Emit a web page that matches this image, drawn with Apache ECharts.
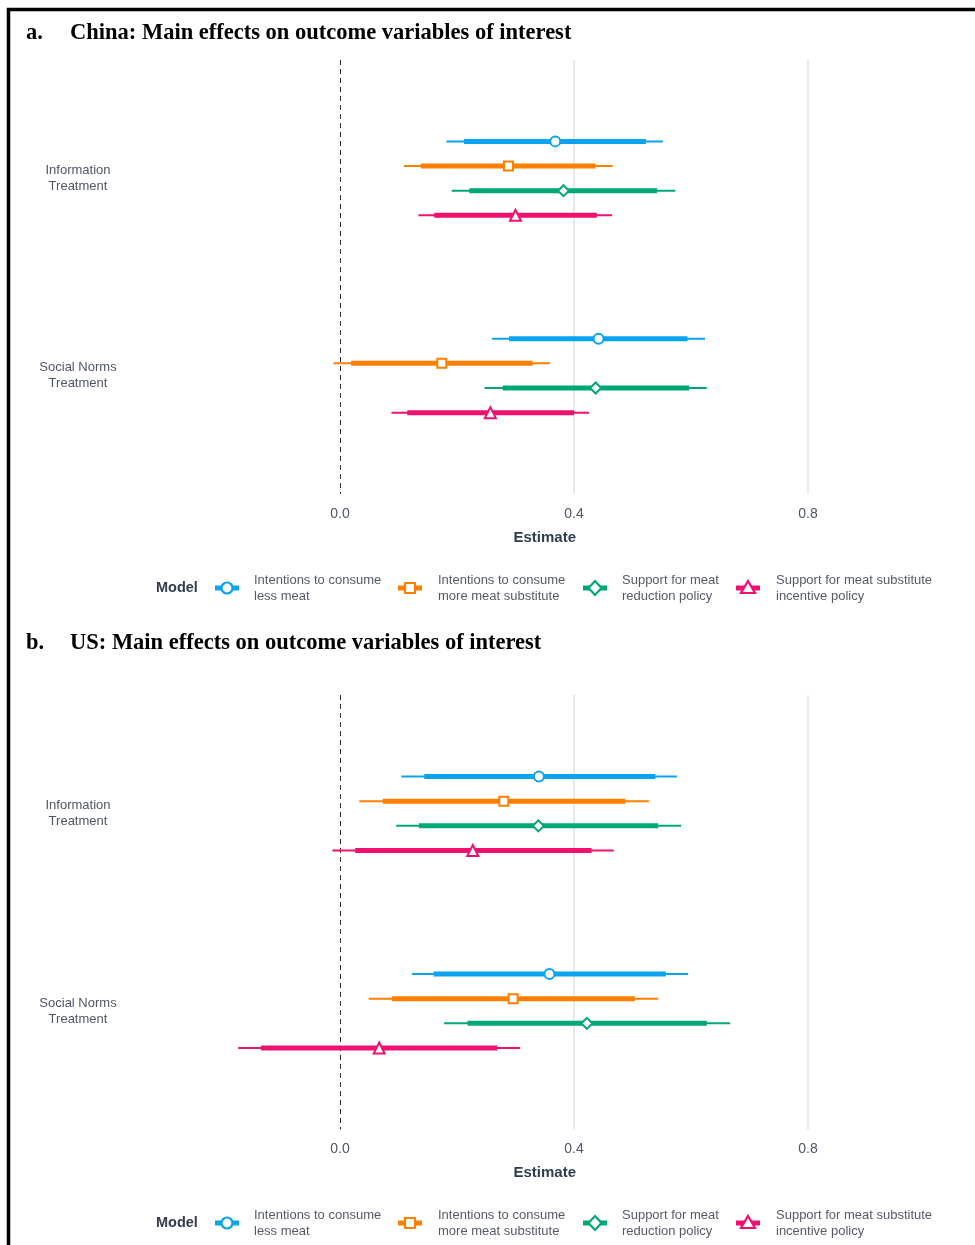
<!DOCTYPE html>
<html>
<head>
<meta charset="utf-8">
<title>Main effects on outcome variables of interest</title>
<script src="https://cdn.jsdelivr.net/npm/echarts@6/dist/echarts.min.js"></script>
<style>
  html, body { margin: 0; padding: 0; background: #fff; }
  #chart { width: 975px; height: 1245px; }
</style>
</head>
<body>
<div id="chart"></div>
<script>
// Treatments (y categories) and outcome models (dodged rows / legend entries)
const treatments = ['Information\nTreatment', 'Social Norms\nTreatment'];
const models = [
  'Intentions to consume\nless meat',
  'Intentions to consume\nmore meat substitute',
  'Support for meat\nreduction policy',
  'Support for meat substitute\nincentive policy'
];
const modelColors = ['#0AA3EF', '#FF7F00', '#00A878', '#F01070'];
const modelSymbols = ['circle', 'rect', 'diamond', 'triangle'];

// x-axis ticks (0 is the dashed reference line)
const xTicks = [0, 0.4, 0.8];
const xTickLabels = ['0.0', '0.4', '0.8'];

// China: rows = treatment, columns = model
const chinaEst  = [[0.368, 0.288, 0.382, 0.300], [0.442, 0.174, 0.437, 0.257]];
const chinaLo90 = [[0.212, 0.138, 0.221, 0.161], [0.289, 0.019, 0.278, 0.115]];
const chinaHi90 = [[0.523, 0.437, 0.542, 0.439], [0.594, 0.329, 0.597, 0.400]];
const chinaLo95 = [[0.182, 0.109, 0.191, 0.134], [0.260, -0.011, 0.247, 0.088]];
const chinaHi95 = [[0.552, 0.466, 0.573, 0.465], [0.624, 0.359, 0.627, 0.426]];

// US: rows = treatment, columns = model
const usEst  = [[0.340, 0.280, 0.339, 0.227], [0.358, 0.296, 0.422, 0.067]];
const usLo90 = [[0.144, 0.073, 0.135, 0.026], [0.160, 0.089, 0.218, -0.135]];
const usHi90 = [[0.539, 0.488, 0.544, 0.430], [0.557, 0.504, 0.627, 0.269]];
const usLo95 = [[0.105, 0.033, 0.096, -0.013], [0.123, 0.049, 0.178, -0.174]];
const usHi95 = [[0.576, 0.528, 0.583, 0.468], [0.595, 0.544, 0.667, 0.308]];

const panelTitles = [
  ['a.', 'China: Main effects on outcome variables of interest'],
  ['b.', 'US: Main effects on outcome variables of interest']
];

// ---------- layout ----------
const SANS = '"Liberation Sans", Arial, sans-serif';
const SERIF = '"Liberation Serif", "Times New Roman", serif';
const dodge = [-0.1875, -0.0625, 0.0625, 0.1875];
const panels = [
  { top: 60, height: 434, titleY: 33, legendY: 588,
    est: chinaEst, lo90: chinaLo90, hi90: chinaHi90, lo95: chinaLo95, hi95: chinaHi95 },
  { top: 695, height: 434.5, titleY: 643, legendY: 1223,
    est: usEst, lo90: usLo90, hi90: usHi90, lo95: usLo95, hi95: usHi95 }
];

// vertical reference lines spanning the full panel height
function renderRefLine(params, api) {
  const cs = params.coordSys;
  const isZero = Math.abs(api.value(0)) < 1e-9;
  let x = api.coord([api.value(0), 1])[0];
  if (isZero) x = Math.round(x) + 0.5;
  return {
    type: 'line',
    shape: { x1: x, y1: cs.y, x2: x, y2: cs.y + cs.height },
    style: isZero
      ? { stroke: '#2A2A2A', lineWidth: 1, lineDash: [5, 4] }
      : { stroke: '#E2E2E2', lineWidth: 1.5 }
  };
}

// thin 95% and thick 90% interval bars
function renderInterval(color) {
  return function (params, api) {
    const y = api.value(0);
    const a95 = api.coord([api.value(1), y]);
    const b95 = api.coord([api.value(5), y]);
    const a90 = api.coord([api.value(2), y]);
    const b90 = api.coord([api.value(4), y]);
    return {
      type: 'group',
      children: [
        { type: 'line', shape: { x1: a95[0], y1: a95[1], x2: b95[0], y2: b95[1] },
          style: { stroke: color, lineWidth: 2 } },
        { type: 'line', shape: { x1: a90[0], y1: a90[1], x2: b90[0], y2: b90[1] },
          style: { stroke: color, lineWidth: 5 } }
      ]
    };
  };
}

const grids = [], xAxes = [], yAxes = [], series = [], graphics = [];

panels.forEach(function (p, pi) {
  grids.push({ left: 164.5, right: 50, top: p.top, height: p.height });

  xAxes.push({
    gridIndex: pi, type: 'value', min: -0.3, max: 1.0, interval: 0.1,
    axisLine: { show: false }, axisTick: { show: false }, splitLine: { show: false },
    axisLabel: {
      color: '#4F5665', fontSize: 14, fontFamily: SANS, margin: 13,
      formatter: function (v) {
        for (let i = 0; i < xTicks.length; i++) {
          if (Math.abs(v - xTicks[i]) < 1e-6) return xTickLabels[i];
        }
        return '';
      }
    },
    name: 'Estimate', nameLocation: 'middle', nameGap: 36,
    nameTextStyle: { fontWeight: 'bold', fontSize: 15, color: '#2F3E50', fontFamily: SANS }
  });

  yAxes.push({
    gridIndex: pi, type: 'value', inverse: true, min: 0.4, max: 2.6, interval: 0.2,
    axisLine: { show: false }, axisTick: { show: false }, splitLine: { show: false },
    axisLabel: {
      color: '#4F5665', fontSize: 13, lineHeight: 16, fontFamily: SANS,
      align: 'center', margin: 86.5,
      formatter: function (v) {
        for (let i = 0; i < treatments.length; i++) {
          if (Math.abs(v - (i + 1)) < 1e-6) return treatments[i];
        }
        return '';
      }
    }
  });

  series.push({
    type: 'custom', xAxisIndex: pi, yAxisIndex: pi, z: 1, silent: true,
    renderItem: renderRefLine,
    encode: { x: 0 },
    data: xTicks.map(function (v) { return [v]; })
  });

  models.forEach(function (m, mi) {
    const intervals = [], points = [];
    treatments.forEach(function (t, ti) {
      const y = ti + 1 + dodge[mi];
      intervals.push([y, p.lo95[ti][mi], p.lo90[ti][mi], p.est[ti][mi], p.hi90[ti][mi], p.hi95[ti][mi]]);
      points.push([p.est[ti][mi], y]);
    });
    series.push({
      type: 'custom', name: m, xAxisIndex: pi, yAxisIndex: pi, z: 3, silent: true,
      renderItem: renderInterval(modelColors[mi]),
      encode: { x: [1, 2, 3, 4, 5], y: 0 },
      data: intervals
    });
    series.push({
      type: 'scatter', name: m, xAxisIndex: pi, yAxisIndex: pi, z: 4, silent: true,
      symbol: modelSymbols[mi],
      symbolSize: mi === 0 ? 10 : (mi === 1 ? 9 : 11),
      itemStyle: { color: '#fff', borderColor: modelColors[mi], borderWidth: 2, opacity: 1 },
      data: points
    });
  });

  // panel title
  graphics.push({ type: 'text', x: 26, y: p.titleY,
    style: { text: panelTitles[pi][0], font: 'bold 22.5px ' + SERIF, fill: '#000', verticalAlign: 'middle' } });
  graphics.push({ type: 'text', x: 70, y: p.titleY,
    style: { text: panelTitles[pi][1], font: 'bold 22.5px ' + SERIF, fill: '#000', verticalAlign: 'middle' } });

  // legend
  const ly = p.legendY;
  graphics.push({ type: 'text', x: 156, y: ly,
    style: { text: 'Model', font: 'bold 14.5px ' + SANS, fill: '#333D4C', verticalAlign: 'middle' } });
  const iconX = [227, 410, 595, 748];
  const textX = [254, 438, 622, 776];
  models.forEach(function (m, mi) {
    const cx = iconX[mi], c = modelColors[mi];
    graphics.push({ type: 'line', shape: { x1: cx - 12, y1: ly, x2: cx + 12, y2: ly },
      style: { stroke: c, lineWidth: 5 } });
    const mk = { fill: '#fff', stroke: c, lineWidth: 2.2 };
    if (mi === 0) graphics.push({ type: 'circle', shape: { cx: cx, cy: ly, r: 5.5 }, style: mk });
    if (mi === 1) graphics.push({ type: 'rect', shape: { x: cx - 5, y: ly - 5, width: 10, height: 10 }, style: mk });
    if (mi === 2) graphics.push({ type: 'polygon', shape: { points: [[cx, ly - 7], [cx + 6.5, ly], [cx, ly + 7], [cx - 6.5, ly]] }, style: mk });
    if (mi === 3) graphics.push({ type: 'polygon', shape: { points: [[cx, ly - 7], [cx + 7, ly + 5], [cx - 7, ly + 5]] }, style: mk });
    graphics.push({ type: 'text', x: textX[mi], y: ly,
      style: { text: m, font: '13px ' + SANS, lineHeight: 16, fill: '#555B66', verticalAlign: 'middle' } });
  });
});

// outer frame
graphics.push({ type: 'rect', shape: { x: 8.5, y: 9.5, width: 1100, height: 1400 },
  style: { fill: 'none', stroke: '#000', lineWidth: 3.5 }, z: 100 });

const chart = echarts.init(document.getElementById('chart'), null, { renderer: 'canvas' });
chart.setOption({
  animation: false,
  backgroundColor: '#fff',
  textStyle: { fontFamily: SANS },
  grid: grids,
  xAxis: xAxes,
  yAxis: yAxes,
  series: series,
  graphic: graphics
});
</script>
</body>
</html>
